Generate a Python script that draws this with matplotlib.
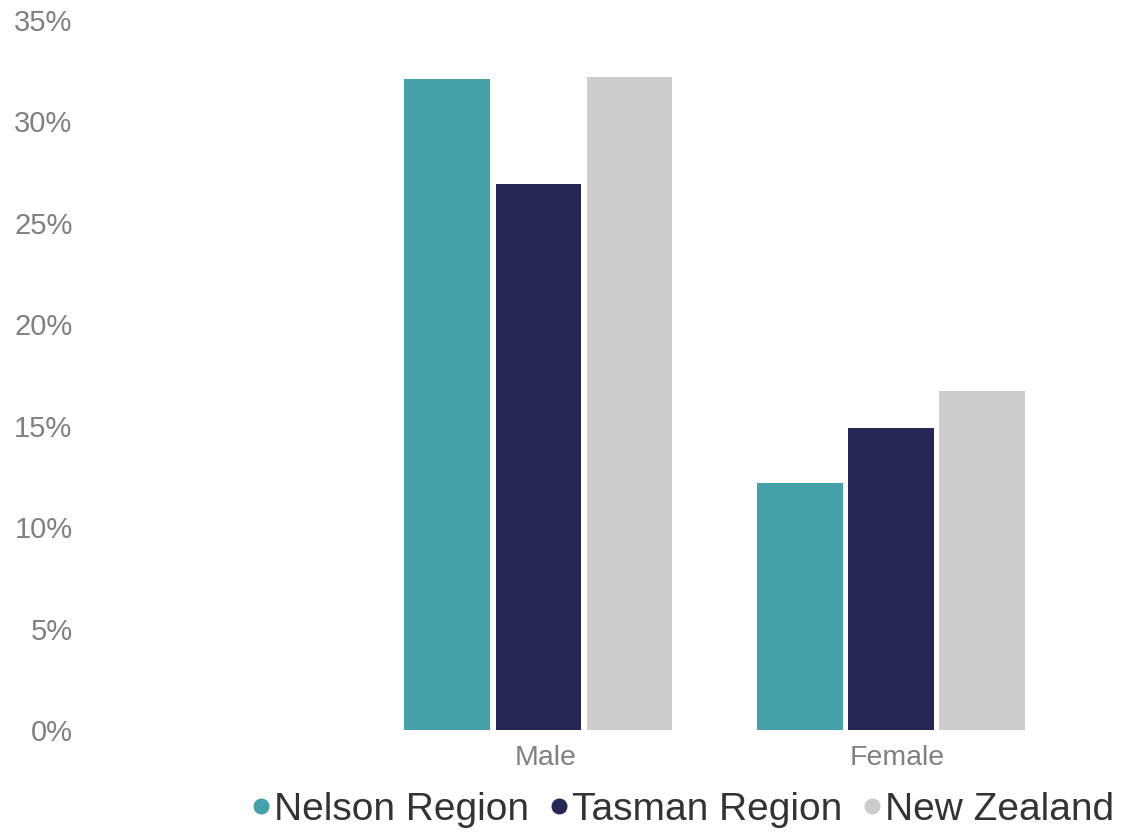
import numpy as np
import matplotlib.pyplot as plt
import matplotlib.transforms as mtransforms
from matplotlib.lines import Line2D

plt.rcParams['font.family'] = ['Liberation Sans', 'DejaVu Sans']

categories = ['Male', 'Female']
series = ['Nelson Region', 'Tasman Region', 'New Zealand']
nelson = [32.1, 12.2]
tasman = [26.9, 14.9]
new_zealand = [32.2, 16.7]
colors = ['#46a0aa', '#262755', '#cccccc']

fig = plt.figure(figsize=(11.24, 8.34), dpi=100)
ax = fig.add_axes([0.0756, 0.1247, 0.9244, 0.8513])

x = np.arange(len(categories))
step = 0.2585
width = 0.244
for i, (vals, col) in enumerate(zip([nelson, tasman, new_zealand], colors)):
  ax.bar(x + (i - 1) * step, vals, width=width, color=col, label=series[i])

ax.set_ylim(0, 35)
ax.set_xlim(-1.288, 1.663)
ax.set_yticks(range(0, 36, 5))
ax.set_yticklabels([f'{v}%' for v in range(0, 36, 5)])
ax.set_xticks(x)
ax.set_xticklabels(categories)
ax.tick_params(axis='y', length=0, pad=9, labelsize=21, labelcolor='#808080')
ax.tick_params(axis='x', length=0, pad=11, labelsize=20.5, labelcolor='#808080')
# category labels sit a little right of the group centre
shift = mtransforms.ScaledTranslation(7 / 100, 0, fig.dpi_scale_trans)
for lbl in ax.get_xticklabels():
  lbl.set_transform(lbl.get_transform() + shift)
for s in ax.spines.values():
  s.set_visible(False)

# legend with round markers
handles = [Line2D([], [], marker='o', linestyle='', markersize=10.5, color=c) for c in colors]
fig.legend(handles, series, loc='center', bbox_to_anchor=(0.603, 0.029), ncol=3,
           frameon=False, fontsize=28, handletextpad=-0.15, columnspacing=0.25,
           handlelength=1.0, labelcolor='#333333')

fig.savefig('out.png', dpi=100)
